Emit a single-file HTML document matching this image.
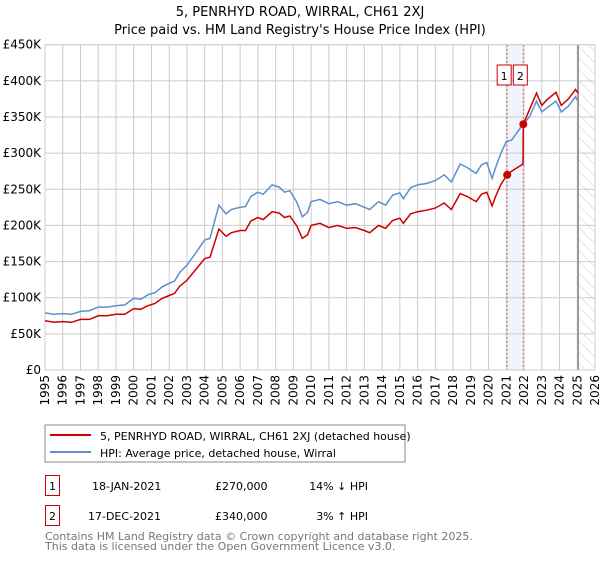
<!DOCTYPE html>
<html><head><meta charset="utf-8"><style>
body{margin:0;background:#fff;}
svg{font-family:"DejaVu Sans","Liberation Sans",sans-serif;}
</style></head><body>
<svg id="chart" width="600" height="560" viewBox="0 0 600 560" xmlns="http://www.w3.org/2000/svg">
<defs><pattern id="hatch" width="8" height="8" patternUnits="userSpaceOnUse" patternTransform="rotate(-45)"><line x1="0" y1="0" x2="0" y2="8" stroke="#ccc" stroke-width="1"/></pattern></defs>
<text x="300" y="16" text-anchor="middle" font-size="13" fill="#000">5, PENRHYD ROAD, WIRRAL, CH61 2XJ</text>
<text x="300" y="34" text-anchor="middle" font-size="13" fill="#000">Price paid vs. HM Land Registry's House Price Index (HPI)</text>
<g id="grid"></g>
<g id="marks"></g>
<rect x="45" y="425" width="360" height="37" fill="#fff" stroke="#888"/>
<line x1="50" y1="435" x2="91" y2="435" stroke="#cc0000" stroke-width="2"/>
<text x="100" y="440" font-size="11">5, PENRHYD ROAD, WIRRAL, CH61 2XJ (detached house)</text>
<line x1="50" y1="452" x2="91" y2="452" stroke="#5b8fd0" stroke-width="2"/>
<text x="100" y="457" font-size="11">HPI: Average price, detached house, Wirral</text>
<rect x="45.5" y="475.5" width="14" height="20" fill="#fff" stroke="#cc0000"/>
<text x="52.5" y="490" font-size="11" text-anchor="middle">1</text>
<text x="92" y="490" font-size="11">18-JAN-2021</text>
<text x="215" y="490" font-size="11">£270,000</text>
<text x="368" y="490" font-size="11" text-anchor="end">14% ↓ HPI</text>
<rect x="45.5" y="505.5" width="14" height="20" fill="#fff" stroke="#cc0000"/>
<text x="52.5" y="520" font-size="11" text-anchor="middle">2</text>
<text x="88" y="520" font-size="11">17-DEC-2021</text>
<text x="215" y="520" font-size="11">£340,000</text>
<text x="368" y="520" font-size="11" text-anchor="end">3% ↑ HPI</text>
<text x="45" y="540" font-size="11" fill="#777">Contains HM Land Registry data © Crown copyright and database right 2025.</text>
<text x="45" y="550" font-size="11" fill="#777">This data is licensed under the Open Government Licence v3.0.</text>
</svg>
<script>
const yTicks=[0,50,100,150,200,250,300,350,400,450];
const yTickLabels=["£0","£50K","£100K","£150K","£200K","£250K","£300K","£350K","£400K","£450K"];
const xYears=[1995,1996,1997,1998,1999,2000,2001,2002,2003,2004,2005,2006,2007,2008,2009,2010,2011,2012,2013,2014,2015,2016,2017,2018,2019,2020,2021,2022,2023,2024,2025,2026];
const hpiDates=[1995.0,1995.5,1996.0,1996.5,1997.0,1997.5,1998.0,1998.5,1999.0,1999.5,2000.0,2000.4,2000.8,2001.2,2001.6,2002.0,2002.3,2002.6,2003.0,2003.5,2004.0,2004.3,2004.8,2005.2,2005.5,2006.0,2006.3,2006.6,2007.0,2007.3,2007.8,2008.2,2008.5,2008.8,2009.2,2009.5,2009.8,2010.0,2010.5,2011.0,2011.5,2012.0,2012.5,2013.0,2013.3,2013.8,2014.2,2014.6,2015.0,2015.2,2015.6,2016.0,2016.5,2017.0,2017.5,2017.9,2018.4,2018.8,2019.3,2019.6,2019.9,2020.2,2020.4,2020.7,2021.0,2021.3,2021.95,2022.3,2022.7,2023.0,2023.3,2023.8,2024.1,2024.5,2024.9,2025.05];
const hpiValues=[79,77,78,77,81,82,87,87,89,90,99,98,104,107,115,120,123,135,145,162,180,182,228,216,222,225,226,240,246,243,256,253,246,248,232,212,218,233,236,230,233,228,230,225,222,233,228,242,245,237,252,256,258,262,270,260,285,280,272,284,287,265,280,300,316,318,340,350,372,357,363,372,357,365,378,372];
const priceDates=[1995.0,1995.5,1996.0,1996.5,1997.0,1997.5,1998.0,1998.5,1999.0,1999.5,2000.0,2000.4,2000.8,2001.2,2001.6,2002.0,2002.3,2002.6,2003.0,2003.5,2004.0,2004.3,2004.8,2005.2,2005.5,2006.0,2006.3,2006.6,2007.0,2007.3,2007.8,2008.2,2008.5,2008.8,2009.2,2009.5,2009.8,2010.0,2010.5,2011.0,2011.5,2012.0,2012.5,2013.0,2013.3,2013.8,2014.2,2014.6,2015.0,2015.2,2015.6,2016.0,2016.5,2017.0,2017.5,2017.9,2018.4,2018.8,2019.3,2019.6,2019.9,2020.2,2020.4,2020.7,2021.05,2021.3,2021.94,2021.96,2022.3,2022.7,2023.0,2023.3,2023.8,2024.1,2024.5,2024.9,2025.05];
const priceValues=[68,66,67,66,70,70,75,75,77,77,85,84,89,92,99,103,106,116,124,139,154,156,195,185,190,193,193,206,211,208,219,217,211,213,199,182,187,200,203,197,200,196,197,193,190,200,196,207,210,203,216,219,221,224,231,222,244,240,233,243,246,227,240,257,270,275,285,340,360,383,366,374,384,366,375,388,383];
const saleDates=[2021.05,2021.96];
const saleValues=[270,340];
const saleLabels=["1","2"];
const X0=45,X1=595,Y0=370,Y1=44.7,XMIN=1995,XMAX=2026,YMAX=450;
const xs=v=>X0+(v-XMIN)/(XMAX-XMIN)*(X1-X0);
const ys=v=>Y0-v/YMAX*(Y0-Y1);
const NS="http://www.w3.org/2000/svg";
const grid=document.getElementById('grid'),marks=document.getElementById('marks');
function mk(tag,attrs,parent){const e=document.createElementNS(NS,tag);for(const k in attrs)e.setAttribute(k,attrs[k]);parent.appendChild(e);return e;}
let r=mk('rect',{x:xs(saleDates[0]),y:Y1,width:xs(saleDates[1])-xs(saleDates[0]),height:Y0-Y1,fill:'#eef3fc'},grid);


r=mk('rect',{x:xs(2025.1),y:Y1,width:X1-xs(2025.1),height:Y0-Y1,fill:'url(#hatch)'},grid);


yTicks.forEach((t,i)=>{
 let l=mk('line',{x1:X0,x2:X1,y1:ys(t),y2:ys(t),stroke:'#ccc','stroke-width':1},grid);
 
 
 let tx=mk('text',{x:X0-4,y:ys(t)+4,'text-anchor':'end','font-size':12},grid);
 tx.textContent=yTickLabels[i];
 
 
});
xYears.forEach(yr=>{
 let l=mk('line',{x1:xs(yr),x2:xs(yr),y1:Y1,y2:Y0,stroke:'#ccc','stroke-width':1},grid);
 
 
 let tx=mk('text',{x:xs(yr)+4,y:Y0+5,'text-anchor':'end','font-size':12,transform:`rotate(-90 ${xs(yr)+4} ${Y0+5})`},grid);
 tx.textContent=yr;
 
 
});
let dl=mk('line',{x1:xs(2025.05),x2:xs(2025.05),y1:Y1,y2:Y0,stroke:'#888','stroke-width':1.5},grid);


saleDates.forEach((d,i)=>{
 let l=mk('line',{x1:xs(d),x2:xs(d),y1:Y1,y2:Y0,stroke:'#e06060','stroke-width':1,'stroke-dasharray':'2,2'},grid);
 
 
});
const hp=hpiDates.map((d,i)=>`${i?'L':'M'}${xs(d).toFixed(1)},${ys(hpiValues[i]).toFixed(1)}`).join('');
let p1=mk('path',{d:hp,fill:'none',stroke:'#5b8fd0','stroke-width':1.5},marks);


const pp=priceDates.map((d,i)=>`${i?'L':'M'}${xs(d).toFixed(1)},${ys(priceValues[i]).toFixed(1)}`).join('');
let p2=mk('path',{d:pp,fill:'none',stroke:'#cc0000','stroke-width':1.5},marks);


saleDates.forEach((d,i)=>{
 let c=mk('circle',{cx:xs(d),cy:ys(saleValues[i]),r:4,fill:'#cc0000'},marks);
 
 
 const bxp=xs(d)-10;
 let b=mk('rect',{x:bxp,y:65,width:14,height:20,fill:'#fff',stroke:'#cc0000'},marks);
 
 
 let t=mk('text',{x:bxp+7,y:80,'text-anchor':'middle','font-size':11},marks);
 t.textContent=saleLabels[i];
 
 
});
let fr=mk('rect',{x:X0,y:Y1,width:X1-X0,height:Y0-Y1,fill:'none',stroke:'#ccc'},grid);


</script>
</body></html>
